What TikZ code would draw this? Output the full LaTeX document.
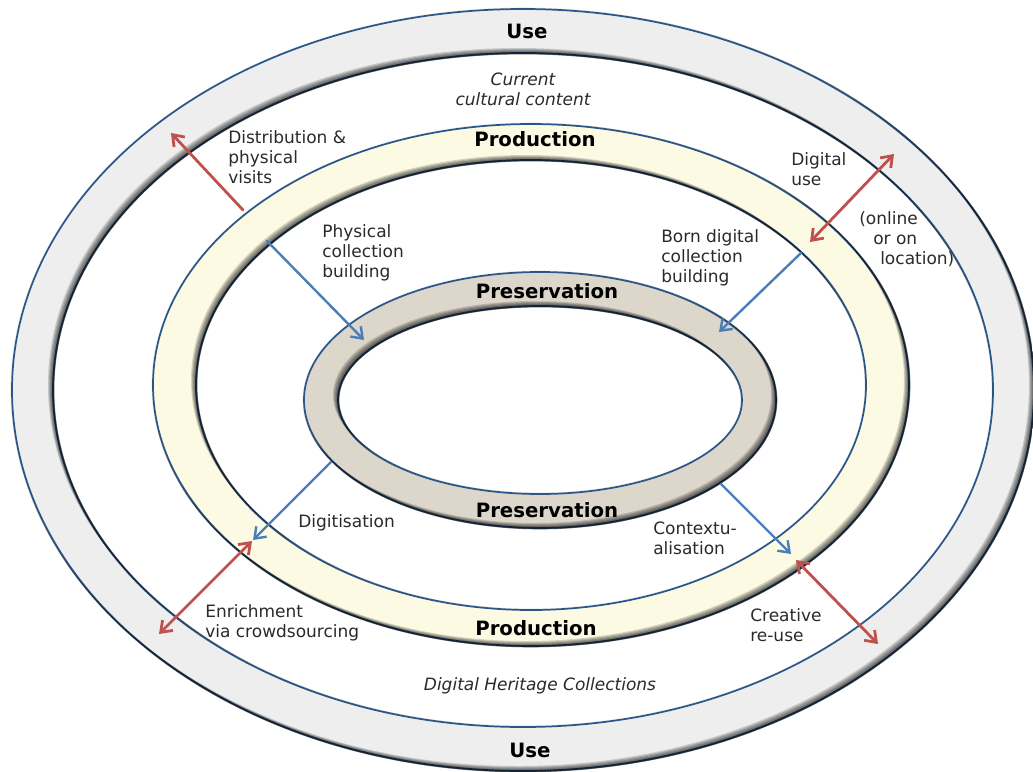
\documentclass[tikz,border=0pt]{standalone}
\usepackage{fontspec}
\setmainfont{DejaVu Sans}
\usetikzlibrary{arrows.meta}
\definecolor{edgeblue}{HTML}{2B5788}
\definecolor{usefill}{HTML}{EEEEEE}
\definecolor{prodfill}{HTML}{FDFAE4}
\definecolor{presfill}{HTML}{DDD6CB}
\definecolor{redarrow}{HTML}{C0504D}
\definecolor{bluearrow}{HTML}{4A7EBB}
\definecolor{txt}{HTML}{2A2A2A}
\newcommand{\drawring}[7]{%
  \fill[#7, even odd rule] (#1,#2) ellipse [x radius=#3, y radius=#4] (#1,#2) ellipse [x radius=#5, y radius=#6];
  \draw[edgeblue, line width=1.3pt] (#1,#2) ellipse [x radius=#3, y radius=#4];
  \draw[edgeblue, line width=1.3pt] (#1,#2) ellipse [x radius=#5, y radius=#6];
  \begin{scope}[even odd rule]
    \clip (#1,#2) ellipse [x radius=#3+1.3, y radius=#4+1.3] (#1,#2) ellipse [x radius=#5-1.3, y radius=#6-1.3];
    \foreach \d in {1,...,5} {
      \fill[black, opacity=0.16, even odd rule] (-100,-100) rectangle (1200,900)
         (#1-\d,#2-\d) ellipse [x radius=#3, y radius=#4]
         (#1-\d,#2-\d) ellipse [x radius=#5, y radius=#6];
    }
  \end{scope}
}
\tikzset{
  redarr/.style={draw=redarrow, line width=2.1pt, line cap=round, {Straight Barb[length=7.5pt,width=11pt]}-{Straight Barb[length=7.5pt,width=11pt]}},
  redone/.style={draw=redarrow, line width=2.1pt, line cap=round, -{Straight Barb[length=7.5pt,width=11pt]}},
  bluearr/.style={draw=bluearrow, line width=1.8pt, line cap=round, -{Straight Barb[length=7.5pt,width=11pt]}},
  lbl/.style={anchor=base west, inner sep=0pt, align=left, text=txt, font=\fontsize{12.75}{15}\selectfont},
  itl/.style={anchor=base, inner sep=0pt, align=center, text=txt, font=\fontsize{12.75}{15}\selectfont\itshape},
  ttl/.style={anchor=base, inner sep=0pt, text=black, font=\fontsize{14.8}{17}\selectfont\bfseries}
}
\begin{document}
\begin{tikzpicture}[x=0.75pt, y=-0.75pt]
\useasboundingbox (0,0) rectangle (1033,772);
\fill[white] (0,0) rectangle (1033,772);
% rings
\drawring{523}{390}{511}{381}{470}{337}{usefill}
\drawring{531}{385}{378}{261}{335}{225}{prodfill}
\drawring{540}{400}{236}{128}{202}{94}{presfill}
% arrow end points
\coordinate (dA) at (243,210); \coordinate (dB) at (171,133);
\coordinate (uA) at (810,242); \coordinate (uB) at (894,154);
\coordinate (eA) at (252,541); \coordinate (eB) at (159,634);
\coordinate (cA) at (796,560); \coordinate (cB) at (878,644);
\coordinate (pA) at (267,241); \coordinate (pB) at (364,340);
\coordinate (bA) at (801,253); \coordinate (bB) at (719,332);
\coordinate (gA) at (331,462); \coordinate (gB) at (253,540);
\coordinate (xA) at (721,484); \coordinate (xB) at (791,554);
% blue arrows
\draw[bluearr] (pA) -- (pB);
\draw[bluearr] (bA) -- (bB);
\draw[bluearr] (gA) -- (gB);
\draw[bluearr] (xA) -- (xB);
% red arrows
\draw[redone] (dA) -- (dB);
\draw[redarr] (uA) -- (uB);
\draw[redarr] (eA) -- (eB);
\draw[redarr] (cA) -- (cB);
% titles
\node[ttl] (useT) at (527,38) {Use};
\node[ttl] (useB) at (530,757) {Use};
\node[ttl] (prodT) at (535,146) {Production};
\node[ttl] (prodB) at (536,635) {Production};
\node[ttl] (presT) at (547,298) {Preservation};
\node[ttl] (presB) at (547,517) {Preservation};
% italic labels (anchor base = last line)
\node[itl] (cur) at (523,105) {Current\\cultural content};
\node[itl] (dhc) at (540,690) {Digital Heritage Collections};
% labels (anchor base west = last line)
\node[lbl] (dist) at (228,183) {Distribution \&\\physical\\visits};
\node[lbl] (phys) at (322,277) {Physical\\collection\\building};
\node[lbl] (dig) at (791,185) {Digital\\use};
\node[lbl] (onl1) at (859,224) {(online};
\node[lbl] (onl2) at (873,244) {or on};
\node[lbl] (onl3) at (880,264) {location)};
\node[lbl] (born) at (661,282) {Born digital\\collection\\building};
\node[lbl] (digi) at (298,527) {Digitisation};
\node[lbl] (ctx) at (653,554) {Contextu-\\alisation};
\node[lbl] (enr) at (205,637) {Enrichment\\via crowdsourcing};
\node[lbl] (cre) at (750,641) {Creative\\re-use};
\end{tikzpicture}
\end{document}
